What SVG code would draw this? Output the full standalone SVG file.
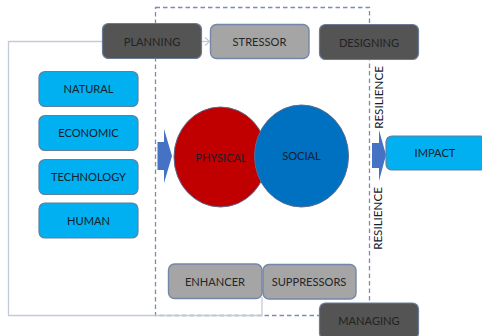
<svg xmlns="http://www.w3.org/2000/svg" width="482" height="336" viewBox="0 0 482 336">
<style>
text{font-family:"Lato","Liberation Sans",sans-serif;font-size:11.100px;text-anchor:middle;dominant-baseline:central;fill:#14202e}
.b rect{fill:#00b0f0;stroke:#5f7f9f;stroke-width:1.2}
.g rect{fill:#a5a5a5;stroke:#7487a8;stroke-width:1.4}
.g text{fill:#262626}
.d rect{fill:#545454;stroke:#6b7c96;stroke-width:1.2}
.d text{fill:#222}
.ar{fill:#4472c4;stroke:none}
.ln{fill:none;stroke:#c3cad8;stroke-width:1.3}
.v{font-size:11.600px}
</style>
<g id="connectors">
<rect x="155.500" y="7.500" width="214" height="308" fill="none" stroke="#7e8ca8" stroke-width="1.300" stroke-dasharray="4.500 3"/>
<path class="ln" d="M102 41.500H8.500V315.500H262V297"/>
<path class="ln" d="M178 41.500H209"/>
<path class="ln" d="M205 37.500L209.500 41.500L205 45.500"/>
</g>
<g id="planning" class="d"><rect x="102.500" y="23.500" width="99" height="35" rx="6"/><text x="152" y="41">PLANNING</text></g>
<g id="stressor" class="g"><rect x="210.500" y="24.500" width="98.500" height="34" rx="6"/><text x="259.500" y="41.500">STRESSOR</text></g>
<g id="designing" class="d"><rect x="319.500" y="24.500" width="99" height="35" rx="6"/><text x="369" y="42">DESIGNING</text></g>
<g id="natural" class="b"><rect x="39" y="71.500" width="99" height="35" rx="6"/><text x="88.500" y="88.500">NATURAL</text></g>
<g id="economic" class="b"><rect x="39" y="115.500" width="99" height="35" rx="6"/><text x="88.500" y="132.500">ECONOMIC</text></g>
<g id="technology" class="b"><rect x="39" y="159.500" width="99" height="35" rx="6"/><text x="88.500" y="176.500">TECHNOLOGY</text></g>
<g id="human" class="b"><rect x="39" y="203" width="99" height="35" rx="6"/><text x="88.500" y="220">HUMAN</text></g>
<g id="arrow-in"><path class="ar" d="M157.500 142H164V129L172 156L164 183V170H157.500Z"/></g>
<g id="physical"><ellipse cx="220.500" cy="157" rx="46.500" ry="50" fill="#c00000" stroke="#5b6a8c" stroke-width="1"/><text x="221" y="157.500">PHYSICAL</text></g>
<g id="social"><ellipse cx="301.500" cy="156" rx="47" ry="51" fill="#0070c0" stroke="#5b6a8c" stroke-width="1"/><text x="301.500" y="155.500">SOCIAL</text></g>
<g id="arrow-out"><path class="ar" d="M372 143H379V130L386 155L379 181V168H372Z"/></g>
<g id="impact" class="b"><rect x="386" y="136" width="100" height="34" rx="6"/><text x="435" y="152.500">IMPACT</text></g>
<g id="resilience-top"><text class="v" transform="translate(378.500 97.500) rotate(-90)">RESILIENCE</text></g>
<g id="resilience-bottom"><text class="v" transform="translate(377 218.500) rotate(-90)">RESILIENCE</text></g>
<g id="enhancer" class="g"><rect x="168.500" y="264" width="93.500" height="34.500" rx="6"/><text x="215" y="281">ENHANCER</text></g>
<g id="suppressors" class="g"><rect x="263" y="264.500" width="93" height="34.500" rx="6"/><text x="309" y="281.500">SUPPRESSORS</text></g>
<g id="managing" class="d"><rect x="319.500" y="303" width="99" height="36" rx="6"/><text x="369" y="320">MANAGING</text></g>
</svg>
